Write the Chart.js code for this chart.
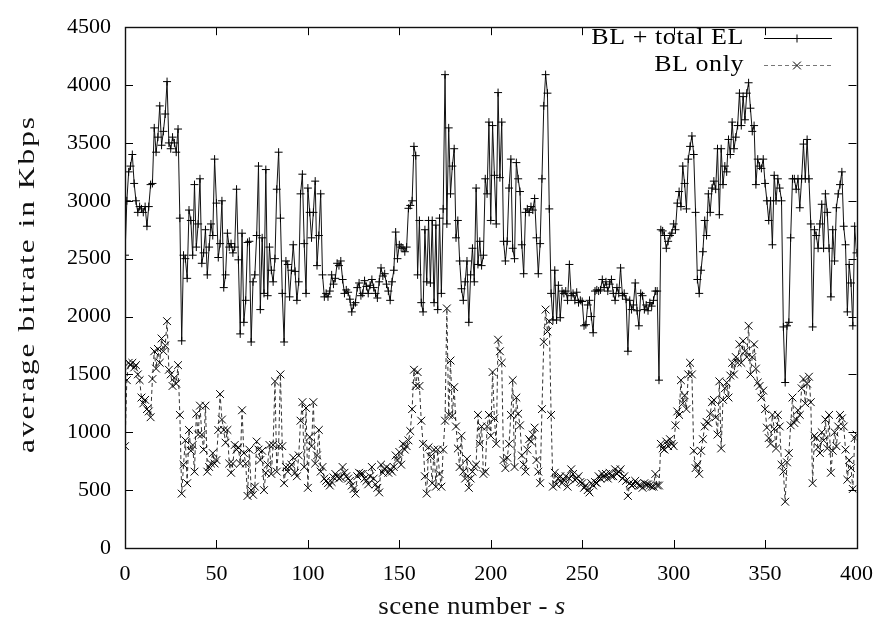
<!DOCTYPE html>
<html>
<head>
<meta charset="utf-8">
<script src="https://cdn.jsdelivr.net/npm/chart.js@4.4.1/dist/chart.umd.min.js"></script>
<style>
html,body{margin:0;padding:0;background:#fff;}
canvas{display:block;}
</style>
</head>
<body>
<canvas id="c" width="886" height="624"></canvas>
<script>
// ---- data ----
const seriesLabels = ["BL + total EL", "BL only"];
const xTickValues = [0, 50, 100, 150, 200, 250, 300, 350, 400];
const yTickValues = [0, 500, 1000, 1500, 2000, 2500, 3000, 3500, 4000, 4500];
const xTitle = "scene number - ";
const xTitleItalic = "s";
const yTitle = "average bitrate in Kbps";

// BL + total EL, scenes 0..400
const blTotalEL = [
 2530,3000,3250,3300,3400,3150,3000,2900,2950,2930,
 2900,2950,2780,2950,3140,3150,3630,3420,3550,3820,
 3480,3600,3750,4030,3500,3450,3550,3500,3420,3620,
 2850,1790,2530,2500,2330,2920,2830,2530,3140,2600,
 2800,3190,2460,2550,2750,2360,2600,2800,2700,3360,
 2980,2510,2630,3000,2250,2360,2720,2600,2630,2550,
 2600,3100,2490,1850,2720,1950,2140,2640,2650,1780,
 2300,2360,2700,3300,2060,2680,2200,3270,2180,2600,
 2400,2300,2500,3100,3420,2850,2200,1780,2480,2450,
 2170,2400,2620,2390,2140,2300,3060,3230,2630,2200,
 3110,2900,2680,2900,3170,2440,2700,3060,2360,2170,
 2200,2170,2220,2360,2280,2330,2460,2440,2480,2320,
 2200,2230,2210,2150,2040,2100,2120,2250,2290,2180,
 2200,2310,2260,2200,2270,2320,2250,2200,2160,2300,
 2420,2350,2370,2280,2220,2140,2300,2400,2730,2500,
 2620,2600,2590,2560,2600,2935,2960,3000,3470,3390,
 2360,2830,2120,2040,2750,2300,2830,2290,2830,2120,
 2790,2060,2850,2200,2930,4090,2800,3630,3060,3300,
 3450,2680,2830,2480,2240,2140,2300,2480,1950,2360,
 2590,2300,3110,2450,2650,2440,2530,3190,3060,3680,
 2830,3650,3220,2800,3935,3200,3680,2650,2480,2650,
 3110,3360,2590,2500,3330,3190,3080,2620,2370,2900,
 2930,2900,2950,2920,3020,2680,2370,2630,3190,3820,
 4090,3930,2930,2200,1970,2400,1970,2270,1990,2220,
 2200,2220,2140,2450,2180,2200,2140,2210,2120,2140,
 2130,1920,1930,2100,2140,2000,1860,2220,2230,2220,
 2230,2320,2250,2300,2220,2280,2320,2200,2140,2250,
 2200,2420,2180,2200,2150,1700,2140,2060,2100,2290,
 2050,1920,2200,2180,2060,2100,2050,2120,2090,2140,
 2220,2220,1450,2750,2740,2700,2590,2650,2700,2720,
 2800,2750,2980,3080,2950,3300,3150,2930,3360,3470,
 3560,3400,2900,2320,2200,2400,2560,2830,2700,3060,
 2900,3110,3170,3100,3450,2880,3450,3140,3300,3250,
 3530,3400,3680,3450,3550,3650,3930,3650,3900,3700,
 3930,4020,3800,3600,3650,3140,3360,3300,3280,3360,
 3150,3000,2830,3000,2620,3220,3000,3190,3110,3000,
 1910,1430,1920,1950,2680,3190,3190,3100,3190,2940,
 3190,3490,3190,3530,3190,2800,1910,2750,2700,2590,
 2800,2970,2590,3060,2900,2590,2170,2750,2480,2940,
 3060,3140,3250,2780,2620,2040,2450,2290,1920,2780,
 2550
];

// BL only, scenes 0..400
const blOnly = [
 880,1450,1600,1580,1600,1560,1580,1500,1450,1300,
 1250,1280,1200,1180,1130,1460,1700,1550,1720,1600,
 1810,1700,1750,1960,1540,1500,1400,1470,1420,1580,
 1150,470,720,930,560,1020,840,890,660,1160,
 980,1230,980,850,1230,660,700,730,820,730,
 760,1020,1330,1110,1020,910,1020,730,650,730,
 890,850,870,730,1190,820,730,450,850,500,
 460,530,920,850,760,840,500,650,720,890,
 640,890,1440,660,880,1500,880,560,700,660,
 700,720,780,650,620,800,1100,1260,700,1210,
 520,960,880,1260,730,800,1020,660,700,600,
 580,560,540,570,610,640,620,600,610,700,
 650,620,600,580,540,510,470,620,650,640,
 640,600,580,550,620,700,600,550,520,480,
 720,650,680,700,650,680,660,700,800,760,
 830,720,900,850,880,930,1010,1200,1540,1400,
 1520,1400,1100,900,620,470,870,790,560,850,
 530,850,640,530,850,1100,2070,1150,1620,1140,
 1390,1050,860,700,970,660,600,770,520,600,
 660,700,720,1150,900,1050,640,660,1050,1150,
 970,1520,1120,900,1800,1700,1600,760,690,780,
 900,1150,1450,700,1300,1160,1060,800,720,660,
 850,940,920,980,1040,760,660,560,1200,1780,
 2060,1870,1960,1150,530,650,550,600,620,560,
 590,620,530,600,680,640,590,600,620,570,
 560,520,540,500,480,560,540,570,560,620,
 600,640,610,640,600,650,620,620,680,640,
 660,680,600,620,580,450,560,540,550,580,
 560,540,540,520,560,550,550,540,530,530,
 640,540,540,900,860,850,920,880,940,900,
 880,1060,1180,1150,1450,1250,1320,1200,1500,1600,
 1500,840,690,720,640,840,940,1050,1090,1080,
 1160,1260,1280,1130,980,1440,860,1280,1380,1430,
 1300,1490,1600,1500,1650,1600,1760,1600,1790,1700,
 1650,1920,1500,1650,1760,1550,1430,1400,1300,1360,
 1200,1040,950,900,1150,1030,860,1150,1050,720,
 660,400,740,820,1060,1300,1080,1110,1190,1150,
 1380,1460,1250,1420,1480,1260,560,970,950,870,
 820,1000,930,1110,860,1150,650,840,1000,880,
 1050,1150,1120,1050,850,590,760,690,510,950,
 980
];

const FONT = "'Liberation Serif', 'Times New Roman', serif";

const toXY = arr => arr.map((v, i) => ({ x: i, y: v }));

// draws text slightly widened (stretch + letter spacing) around its anchor
function wideText(ctx, text, x, y, sx, spacing, align) {
  ctx.save();
  ctx.translate(x, y);
  ctx.scale(sx, 1);
  ctx.textAlign = align;
  if ('letterSpacing' in ctx) ctx.letterSpacing = spacing + 'px';
  ctx.fillText(text, 0, 0);
  ctx.restore();
}
function wideWidth(ctx, text, sx, spacing) {
  ctx.save();
  if ('letterSpacing' in ctx) ctx.letterSpacing = spacing + 'px';
  const w = ctx.measureText(text).width * sx;
  ctx.restore();
  return w;
}

const chromePlugin = {
  id: 'chrome',
  afterDatasetsDraw(chart) {
    const { ctx, chartArea: a, scales } = chart;
    const xs = scales.x, ys = scales.y;
    ctx.save();
    ctx.strokeStyle = '#000';
    ctx.lineWidth = 1;
    ctx.setLineDash([]);
    const line = (x1, y1, x2, y2) => { ctx.beginPath(); ctx.moveTo(x1, y1); ctx.lineTo(x2, y2); ctx.stroke(); };
    const L = 8;
    ys.ticks.forEach(t => {
      const py = Math.round(ys.getPixelForValue(t.value)) + 0.5;
      line(a.left, py, a.left + L, py);
      line(a.right, py, a.right - L, py);
    });
    xs.ticks.forEach(t => {
      const px = Math.round(xs.getPixelForValue(t.value)) + 0.5;
      line(px, a.bottom, px, a.bottom - L);
      line(px, a.top, px, a.top + L);
    });
    ctx.lineWidth = 1.4;
    ctx.strokeStyle = '#111';
    ctx.strokeRect(Math.round(a.left) + 0.5, Math.round(a.top) + 0.5,
                   Math.round(a.right - a.left), Math.round(a.bottom - a.top));

    // legend (gnuplot style: text, sample line with point in the middle)
    ctx.font = "23px " + FONT;
    ctx.fillStyle = '#000';
    ctx.textBaseline = 'middle';
    const rows = [38, 65];
    chart.data.datasets.forEach((ds, i) => {
      const yy = rows[i];
      wideText(ctx, ds.label, 744, yy, 1.13, 0.5, 'right');
      ctx.save();
      ctx.lineWidth = 1;
      ctx.strokeStyle = i === 0 ? '#000' : '#777';
      ctx.setLineDash(ds.borderDash || []);
      line(764, yy + 0.5, 832, yy + 0.5);
      ctx.setLineDash([]);
      ctx.strokeStyle = '#000';
      Chart.helpers.drawPoint(ctx, { pointStyle: ds.pointStyle, radius: ds.pointRadius, borderWidth: 1, rotation: 0 }, 797, yy + 0.5);
      ctx.restore();
    });

    // axis titles
    ctx.fillStyle = '#111';
    ctx.textBaseline = 'middle';
    ctx.save();
    ctx.translate(28, 284);
    ctx.rotate(-Math.PI / 2);
    ctx.font = "24px " + FONT;
    wideText(ctx, yTitle, 0, 0, 1.3, 1.6, 'center');
    ctx.restore();

    const sx = 1.08, sp = 0.3;
    ctx.font = "25px " + FONT;
    const w1 = wideWidth(ctx, xTitle, sx, sp);
    ctx.font = "italic 25px " + FONT;
    const w2 = wideWidth(ctx, xTitleItalic, sx, sp);
    const startX = 472 - (w1 + w2) / 2;
    ctx.textBaseline = 'alphabetic';
    ctx.font = "25px " + FONT;
    wideText(ctx, xTitle, startX, 614, sx, sp, 'left');
    ctx.font = "italic 25px " + FONT;
    wideText(ctx, xTitleItalic, startX + w1, 614, sx, sp, 'left');
    ctx.restore();
  }
};

new Chart(document.getElementById('c'), {
  type: 'line',
  data: {
    datasets: [
      {
        label: seriesLabels[0],
        data: toXY(blTotalEL),
        borderColor: '#111',
        borderWidth: 1,
        pointStyle: 'cross',
        pointRadius: 4,
        pointBorderColor: '#000',
        pointBorderWidth: 1,
        pointBackgroundColor: '#000',
        tension: 0,
        fill: false
      },
      {
        label: seriesLabels[1],
        data: toXY(blOnly),
        borderColor: '#333',
        borderWidth: 1,
        borderDash: [4, 3],
        pointStyle: 'crossRot',
        pointRadius: 5.5,
        pointBorderColor: '#000',
        pointBorderWidth: 1,
        pointBackgroundColor: '#000',
        tension: 0,
        fill: false
      }
    ]
  },
  options: {
    responsive: false,
    animation: false,
    devicePixelRatio: 1,
    layout: { padding: { top: 18, right: 24, left: 0, bottom: 0 } },
    plugins: { legend: { display: false }, tooltip: { enabled: false } },
    events: [],
    scales: {
      x: {
        type: 'linear',
        min: 0, max: 400,
        afterBuildTicks: s => { s.ticks = xTickValues.map(v => ({ value: v })); },
        afterFit: s => { s.height = 76; },
        grid: { display: false, drawTicks: false },
        border: { display: false },
        ticks: { color: '#000', padding: 13, font: { family: FONT, size: 22 }, maxRotation: 0,
                 callback: v => String(v) }
      },
      y: {
        type: 'linear',
        min: 0, max: 4500,
        afterBuildTicks: s => { s.ticks = yTickValues.map(v => ({ value: v })); },
        afterFit: s => { s.width = 125; },
        grid: { display: false, drawTicks: false },
        border: { display: false },
        ticks: { color: '#000', padding: 14, font: { family: FONT, size: 22 },
                 callback: v => String(v) }
      }
    }
  },
  plugins: [chromePlugin]
});
</script>
</body>
</html>
